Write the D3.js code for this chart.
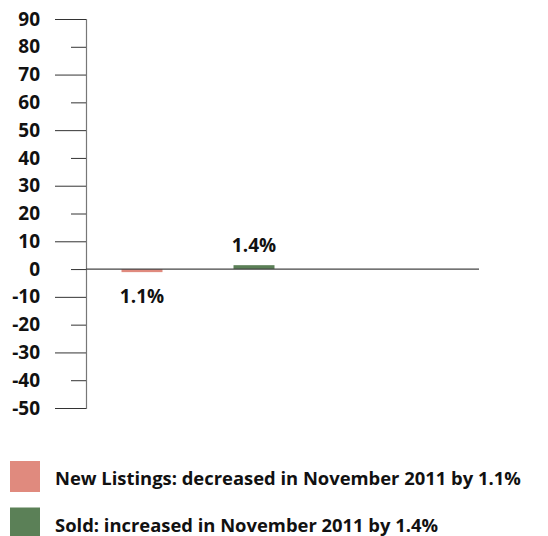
<!DOCTYPE html>
<html lang="en">
<head>
  <meta charset="UTF-8">
  <title>New Listings and Sold, November 2011</title>
  <script src="https://d3js.org/d3.v7.min.js"></script>
  <style>
    body { margin: 0; background: #fff; }
    text { font-family: "Open Sans", Lato, sans-serif; font-weight: bold; fill: #111; }
  </style>
</head>
<body>
  <div id="chart"></div>
  <script>
    // Data
    var categories = ["New Listings", "Sold"];
    var values = [-1.1, 1.4];
    var valueLabels = ["1.1%", "1.4%"];
    var colors = ["#e08a7e", "#5b8057"];
    var legendLabels = [
      "New Listings: decreased in November 2011 by 1.1%",
      "Sold: increased in November 2011 by 1.4%"
    ];
    var tickValues = [90, 80, 70, 60, 50, 40, 30, 20, 10, 0, -10, -20, -30, -40, -50];

    var W = 548, H = 536;
    var axisX = 86, plotRight = 479;

    var svg = d3.select("#chart").append("svg")
      .attr("width", W)
      .attr("height", H);

    var y = d3.scaleLinear().domain([-50, 90]).range([408, 19]);
    var x = d3.scaleBand()
      .domain(categories)
      .range([axisX, axisX + 224])
      .paddingInner(0.634)
      .paddingOuter(0.317);

    // Y axis
    var yAxis = svg.append("g")
      .attr("transform", "translate(" + axisX + ",0)")
      .call(d3.axisLeft(y).tickValues(tickValues).tickSize(31).tickPadding(15)
        .tickFormat(function(d) { return String(d); }));
    yAxis.select(".domain").attr("stroke", "#777").attr("stroke-width", 1.2);
    yAxis.selectAll(".tick line").attr("stroke", "#333")
      .attr("x2", function(d) { return (d / 10) % 2 === 0 ? -15 : -31; });
    yAxis.selectAll(".tick text")
      .attr("x", -46)
      .style("font-size", "19px")
      .style("font-family", "'Open Sans', sans-serif")
      .style("font-weight", "bold")
      .attr("fill", "#111");

    // Bars
    svg.selectAll("rect.bar")
      .data(values)
      .enter().append("rect")
        .attr("class", "bar")
        .attr("x", function(d, i) { return x(categories[i]); })
        .attr("y", function(d) { return y(Math.max(0, d)); })
        .attr("width", x.bandwidth())
        .attr("height", function(d) { return Math.abs(y(d) - y(0)); })
        .attr("fill", function(d, i) { return colors[i]; });

    // Zero line
    svg.append("line")
      .attr("x1", axisX).attr("x2", plotRight)
      .attr("y1", y(0)).attr("y2", y(0))
      .attr("stroke", "#444").attr("stroke-width", 1.2);

    // Value labels
    svg.selectAll("text.val")
      .data(values)
      .enter().append("text")
        .attr("class", "val")
        .attr("x", function(d, i) { return x(categories[i]) + x.bandwidth() / 2; })
        .attr("y", function(d) { return d < 0 ? y(d) + 31 : y(d) - 13; })
        .attr("text-anchor", "middle")
        .style("font-size", "19px")
        .text(function(d, i) { return valueLabels[i]; });

    // Legend
    var legend = svg.selectAll("g.legend")
      .data(legendLabels)
      .enter().append("g")
        .attr("class", "legend")
        .attr("transform", function(d, i) { return "translate(10," + (461 + i * 46.5) + ")"; });
    legend.append("rect")
      .attr("width", 30).attr("height", 31)
      .attr("fill", function(d, i) { return colors[i]; });
    legend.append("text")
      .attr("x", 45).attr("y", 24)
      .style("font-size", "18.4px")
      .text(function(d) { return d; });
  </script>
</body>
</html>
